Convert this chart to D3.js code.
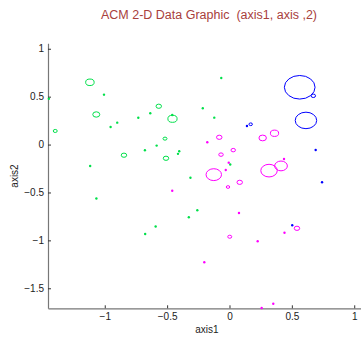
<!DOCTYPE html>
<html>
<head>
<meta charset="utf-8">
<script src="https://cdn.jsdelivr.net/npm/d3@7"></script>
<style>
  body { margin: 0; background: #fff; }
  svg { display: block; font-family: "Liberation Sans", Arial, sans-serif; }
</style>
</head>
<body>
<svg id="chart"></svg>
<script>
// values: [axis1, axis2, radius] for rings, [axis1, axis2] for dots
var greenRings = [
    [-1.119, 0.650, 0.034], [-1.068, 0.314, 0.028], [-0.567, 0.400, 0.022],
    [-0.457, 0.269, 0.037], [-1.397, 0.142, 0.016], [-0.517, 0.062, 0.016],
    [-0.846, -0.111, 0.022], [-0.509, -0.143, 0.022]
];
var greenDots = [
    [-1.448, 0.479], [-1.006, 0.521], [-0.066, 0.695], [-0.635, 0.327],
    [-0.731, 0.280], [-0.214, 0.379], [-0.122, 0.281], [-0.459, 0.309],
    [-0.900, 0.229], [-0.953, 0.184], [-0.584, -0.011], [-0.678, -0.059],
    [-0.403, -0.069], [-0.413, -0.097], [0.006, -0.208], [-1.117, -0.223],
    [-0.313, -0.346], [-1.067, -0.563], [-0.258, -0.685], [-0.326, -0.758],
    [-0.592, -0.855], [-0.676, -0.933]
];
var blueRings = [
    [0.563, 0.598, 0.123], [0.672, 0.509, 0.018], [0.613, 0.252, 0.086],
    [0.170, 0.212, 0.014]
];
var blueDots = [
    [0.140, 0.194], [0.691, -0.056], [0.742, -0.394], [0.503, -0.842]
];
var magentaRings = [
    [-0.082, 0.076, 0.022], [0.266, 0.069, 0.030], [0.361, 0.118, 0.033],
    [0.030, -0.058, 0.018], [-0.068, -0.105, 0.018], [0.413, -0.223, 0.051],
    [0.317, -0.272, 0.066], [-0.126, -0.314, 0.062], [0.082, -0.394, 0.022],
    [-0.012, -0.443, 0.014], [0.541, -0.874, 0.022], [0.002, -0.962, 0.016]
];
var magentaDots = [
    [-0.178, 0.024], [0.437, -0.150], [-0.006, -0.189], [-0.030, -0.265],
    [-0.459, -0.482], [0.076, -0.715], [0.441, -0.920], [0.226, -1.009],
    [-0.202, -1.229], [0.351, -1.661], [0.258, -1.706]
];
var xTicks = [-1, -0.5, 0, 0.5, 1];
var yTicks = [1, 0.5, 0, -0.5, -1, -1.5];

var width = 361;
var height = 337;

var xs = d3.scaleLinear().domain([-1.455, 1.1]).range([48, 366.7]);
var ys = d3.scaleLinear().domain([-1.709, 1.057]).range([308.3, 43.3]);

var fmt = function (d) { return d3.format('')(d).replace('-', '\u2212'); };

var svg = d3.select('#chart')
    .attr('width', width)
    .attr('height', height);

// title
svg.append('text')
    .attr('x', 209)
    .attr('y', 19)
    .attr('text-anchor', 'middle')
    .style('font-size', '12.5px')
    .style('white-space', 'pre')
    .style('fill', '#a8403c')
    .text('ACM 2-D Data Graphic  (axis1, axis ,2)');

// axes
var yAxis = svg.append('g')
    .attr('transform', 'translate(' + xs.range()[0] + ',0)')
    .call(d3.axisLeft(ys).tickValues(yTicks).tickFormat(fmt)
        .tickSizeInner(-3).tickSizeOuter(0).tickPadding(4));

var xAxis = svg.append('g')
    .attr('transform', 'translate(0,' + ys.range()[0] + ')')
    .call(d3.axisBottom(xs).tickValues(xTicks).tickFormat(fmt)
        .tickSizeInner(-3).tickSizeOuter(0).tickPadding(5));

[xAxis, yAxis].forEach(function (ax) {
    ax.select('.domain').attr('stroke', '#777').attr('stroke-width', 1.2);
    ax.selectAll('.tick line').attr('stroke', '#333');
    ax.selectAll('.tick text')
        .style('font-size', '10px')
        .style('font-family', '"Liberation Sans", Arial, sans-serif')
        .attr('fill', '#222');
});

svg.append('text')
    .attr('x', 207)
    .attr('y', 333)
    .attr('text-anchor', 'middle')
    .style('font-size', '10px')
    .style('fill', '#222')
    .text('axis1');

svg.append('text')
    .attr('transform', 'translate(18,176) rotate(-90)')
    .attr('text-anchor', 'middle')
    .style('font-size', '10px')
    .style('fill', '#222')
    .text('axis2');

// marks
var plot = svg.append('g');

function drawRings(list, colour) {
    plot.append('g').selectAll('ellipse').data(list)
        .enter()
        .append('ellipse')
        .attr('cx', function (d) { return xs(d[0]); })
        .attr('cy', function (d) { return ys(d[1]); })
        .attr('rx', function (d) { return xs(d[0] + d[2]) - xs(d[0]); })
        .attr('ry', function (d) { return ys(d[1] - d[2]) - ys(d[1]); })
        .attr('fill', 'none')
        .attr('stroke', colour)
        .attr('stroke-width', 1);
}

function drawDots(list, colour) {
    plot.append('g').selectAll('circle').data(list)
        .enter()
        .append('circle')
        .attr('cx', function (d) { return xs(d[0]); })
        .attr('cy', function (d) { return ys(d[1]); })
        .attr('r', 1.2)
        .attr('fill', colour);
}

drawRings(greenRings, '#00e04a');
drawDots(greenDots, '#00e04a');
drawRings(magentaRings, '#ff00ff');
drawDots(magentaDots, '#ff00ff');
drawRings(blueRings, '#0000ff');
drawDots(blueDots, '#0000ff');
</script>
</body>
</html>
